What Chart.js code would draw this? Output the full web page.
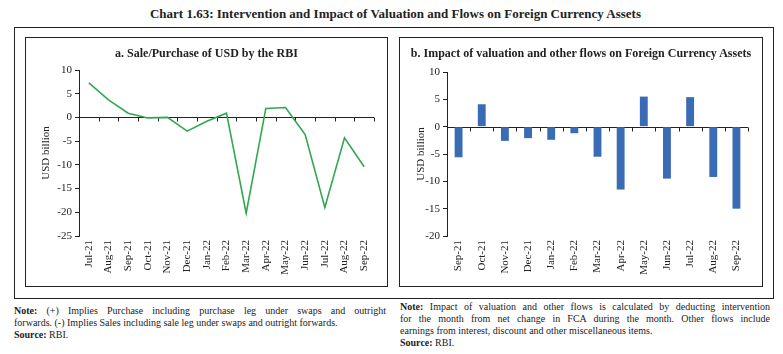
<!DOCTYPE html>
<html lang="en">
<head>
<meta charset="UTF-8">
<title>Chart 1.63</title>
<script src="https://cdn.jsdelivr.net/npm/chart.js"></script>
<style>
    body { margin: 0; width: 783px; height: 354px; background: #fff; position: relative; overflow: hidden; font-family: "Liberation Serif", serif; color: #222; }
    #main-title { position: absolute; top: 6px; left: 4px; width: 783px; text-align: center; font-weight: bold; font-size: 13px; }
    #frame { position: absolute; left: 14px; top: 27px; width: 758px; height: 270px; border: 1px solid #222; }
    .panel { position: absolute; top: 37px; height: 248px; border: 1px solid #222; }
    #panel-a { left: 25px; width: 361px; }
    #panel-b { left: 399px; width: 362px; }
    .panel-title { position: absolute; top: 8px; left: 0; right: 0; text-align: center; font-weight: bold; font-size: 12px; white-space: nowrap; }
    .panel canvas { position: absolute; left: 0; top: 0; }
    .note { position: absolute; font-size: 10px; line-height: 12px; }
    .note div { white-space: nowrap; }
    .note .j { text-align: justify; text-align-last: justify; white-space: normal; }
    #note-a { left: 14px; top: 305px; width: 372px; }
    #note-b { left: 400px; top: 301px; width: 370px; }
</style>
</head>
<body>
    <div id="main-title">Chart 1.63: Intervention and Impact of Valuation and Flows on Foreign Currency Assets</div>
    <div id="frame"></div>

    <div class="panel" id="panel-a">
        <canvas id="chart-a" width="361" height="248"></canvas>
        <div class="panel-title">a. Sale/Purchase of USD by the RBI</div>
    </div>
    <div class="panel" id="panel-b">
        <canvas id="chart-b" width="362" height="248"></canvas>
        <div class="panel-title">b. Impact of valuation and other flows on Foreign Currency Assets</div>
    </div>

    <div class="note" id="note-a">
        <div class="j"><b>Note:</b> (+) Implies Purchase including purchase leg under swaps and outright</div>
        <div>forwards. (-) Implies Sales including sale leg under swaps and outright forwards.</div>
        <div><b>Source:</b> RBI.</div>
    </div>
    <div class="note" id="note-b">
        <div class="j"><b>Note:</b> Impact of valuation and other flows is calculated by deducting intervention</div>
        <div class="j">for the month from net change in FCA during the month. Other flows include</div>
        <div>earnings from interest, discount and other miscellaneous items.</div>
        <div><b>Source:</b> RBI.</div>
    </div>

<script>
    // --- data (USD billion) ---
    const monthsA = ['Jul-21', 'Aug-21', 'Sep-21', 'Oct-21', 'Nov-21', 'Dec-21', 'Jan-22', 'Feb-22',
                     'Mar-22', 'Apr-22', 'May-22', 'Jun-22', 'Jul-22', 'Aug-22', 'Sep-22'];
    const salePurchaseUSD = [7.3, 3.7, 0.9, -0.1, 0.0, -2.9, -0.8, 0.9, -20.2, 1.9, 2.1, -3.6, -19.0, -4.3, -10.4];

    const monthsB = ['Sep-21', 'Oct-21', 'Nov-21', 'Dec-21', 'Jan-22', 'Feb-22', 'Mar-22',
                     'Apr-22', 'May-22', 'Jun-22', 'Jul-22', 'Aug-22', 'Sep-22'];
    const valuationFlows = [-5.6, 4.1, -2.6, -2.1, -2.4, -1.2, -5.5, -11.5, 5.5, -9.5, 5.4, -9.2, -15.0];

    const axisA = { min: -25, max: 10, step: 5 };
    const axisB = { min: -20, max: 10, step: 5 };

    const GREEN = '#2fa84f';
    const BLUE = '#3a6bb5';
    const INK = '#222';
    const tickFont = { family: '"Liberation Serif", serif', size: 11 };

    // horizontal axis line through zero, with small tick marks at category boundaries
    const zeroAxis = {
        id: 'zeroAxis',
        beforeDatasetsDraw(chart) {
            const { ctx, chartArea, scales: { x, y } } = chart;
            const y0 = Math.round(y.getPixelForValue(0)) + 0.5;
            const step = x.getPixelForValue(1) - x.getPixelForValue(0);
            ctx.save();
            ctx.strokeStyle = INK;
            ctx.lineWidth = 1;
            ctx.beginPath();
            ctx.moveTo(chartArea.left, y0);
            ctx.lineTo(chartArea.right, y0);
            for (let i = 0; i < chart.data.labels.length; i++) {
                const bx = Math.round(x.getPixelForValue(i) + step / 2) + 0.5;
                ctx.moveTo(bx, y0);
                ctx.lineTo(bx, y0 + 4);
            }
            ctx.stroke();
            ctx.restore();
        }
    };

    function makeScales(range, yWidth, titlePad) {
        return {
            x: {
                offset: true,
                grid: { display: false, drawTicks: false },
                border: { display: false },
                ticks: { minRotation: 90, maxRotation: 90, autoSkip: false, padding: 4, color: INK, font: tickFont },
                afterFit(scale) { scale.height = 50; }
            },
            y: {
                min: range.min, max: range.max,
                ticks: { stepSize: range.step, padding: 3, color: INK, font: tickFont },
                grid: { drawOnChartArea: false, tickLength: 4, color: INK },
                border: { color: INK },
                title: { display: true, text: 'USD billion', color: INK, font: { family: '"Liberation Serif", serif', size: 11 }, padding: { top: titlePad, bottom: 0 } },
                afterFit(scale) { scale.width = yWidth; }
            }
        };
    }

    new Chart(document.getElementById('chart-a'), {
        type: 'line',
        data: { labels: monthsA, datasets: [{ data: salePurchaseUSD, borderColor: GREEN, borderWidth: 1.6, pointRadius: 0, tension: 0, fill: false }] },
        options: {
            responsive: false, animation: false,
            layout: { padding: { top: 32, right: 13, bottom: 0, left: 0 } },
            plugins: { legend: { display: false }, tooltip: { enabled: false } },
            scales: makeScales(axisA, 53, 14)
        },
        plugins: [zeroAxis]
    });

    new Chart(document.getElementById('chart-b'), {
        type: 'bar',
        data: { labels: monthsB, datasets: [{ data: valuationFlows, backgroundColor: BLUE, barPercentage: 0.34, categoryPercentage: 1 }] },
        options: {
            responsive: false, animation: false,
            layout: { padding: { top: 34, right: 14, bottom: 0, left: 0 } },
            plugins: { legend: { display: false }, tooltip: { enabled: false } },
            scales: makeScales(axisB, 47, 15)
        },
        plugins: [zeroAxis]
    });
</script>
</body>
</html>
